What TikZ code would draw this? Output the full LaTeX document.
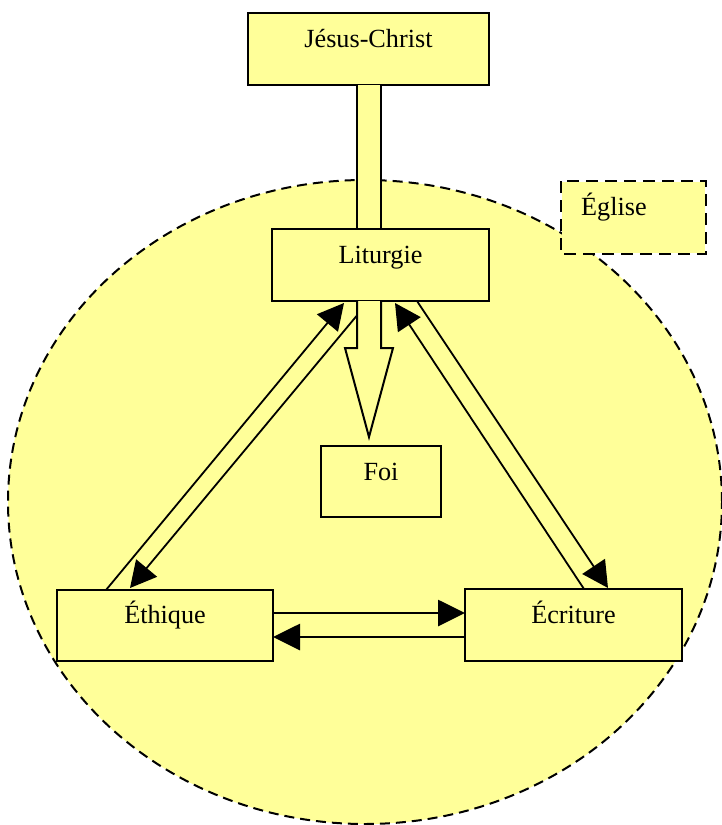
\documentclass[tikz,border=0pt]{standalone}
\usepackage{fontspec}
\setmainfont{Liberation Serif}
\usetikzlibrary{arrows.meta}
\definecolor{pale}{HTML}{FFFF99}
\tikzset{
  boxnode/.style={draw=black, line width=2pt, fill=pale, rectangle, inner sep=0pt},
  lbl/.style={anchor=base, inner sep=0pt, font=\fontsize{26.2}{31}\selectfont},
  thinarr/.style={line width=1.8pt, -{Triangle[length=26pt,width=27pt]}},
  thickarr/.style={line width=2.8pt, -{Triangle[length=27pt,width=26pt]}},
  blockline/.style={draw=black, line width=2pt, line join=miter},
}
\begin{document}
\begin{tikzpicture}[x=1pt,y=-1pt]
\useasboundingbox (0,0) rectangle (721,825);
% Eglise ellipse
\draw[fill=pale, line width=2pt, dash pattern=on 10pt off 6pt] (365,502) ellipse [x radius=357pt, y radius=322pt];
% boxes
\node[boxnode, minimum width=241pt, minimum height=72pt] (jc) at (368.5,49) {};
\node[lbl] (jct) at (368.5,47) {Jésus-Christ};
\node[boxnode, draw=none, minimum width=143pt, minimum height=71pt] (eg) at (633.5,217.5) {};
\draw[line width=2.6pt, dash pattern=on 12pt off 7pt] (eg.north west) rectangle (eg.south east);
\node[lbl, anchor=base west] (egt) at (581,215) {Église};
% shaft from Jesus-Christ to Liturgie
\fill[pale] (357,85) rectangle (381,229);
\draw[blockline] (357,85) -- (357,229);
\draw[blockline] (381,85) -- (381,229);
\node[boxnode, minimum width=217pt, minimum height=72pt] (lit) at (380.5,265) {};
\node[lbl] (litt) at (380.5,263) {Liturgie};
\node[boxnode, minimum width=120pt, minimum height=71pt] (foi) at (381,481.5) {};
\node[lbl] (foit) at (381,480) {Foi};
\node[boxnode, minimum width=216pt, minimum height=71pt] (eth) at (165,625.5) {};
\node[lbl] (etht) at (165,623) {Éthique};
\node[boxnode, minimum width=217pt, minimum height=72pt] (ecr) at (573.5,625) {};
\node[lbl] (ecrt) at (573.5,623) {Écriture};
% connector end points
\coordinate (a1) at (106,590); \coordinate (a2) at (344,303);
\coordinate (b1) at (369,301); \coordinate (b2) at (130,588);
\coordinate (c1) at (584,589); \coordinate (c2) at (395,303);
\coordinate (d1) at (417,301); \coordinate (d2) at (608,588);
\coordinate (h1) at (273,613); \coordinate (h2) at (465,613);
\coordinate (h3) at (465,637); \coordinate (h4) at (273,637);
\draw[thinarr] (a1) -- (a2);
\draw[thinarr] (b1) -- (b2);
\draw[thinarr] (c1) -- (c2);
\draw[thinarr] (d1) -- (d2);
\draw[thickarr] (h1) -- (h2);
\draw[thickarr] (h3) -- (h4);
% hollow arrow Liturgie -> Foi
\fill[pale] (357,301) -- (357,348) -- (345,348) -- (369,437) -- (393,348) -- (381,348) -- (381,301) -- cycle;
\draw[blockline] (357,301) -- (357,348) -- (345,348) -- (369,437) -- (393,348) -- (381,348) -- (381,301);
\end{tikzpicture}
\end{document}
